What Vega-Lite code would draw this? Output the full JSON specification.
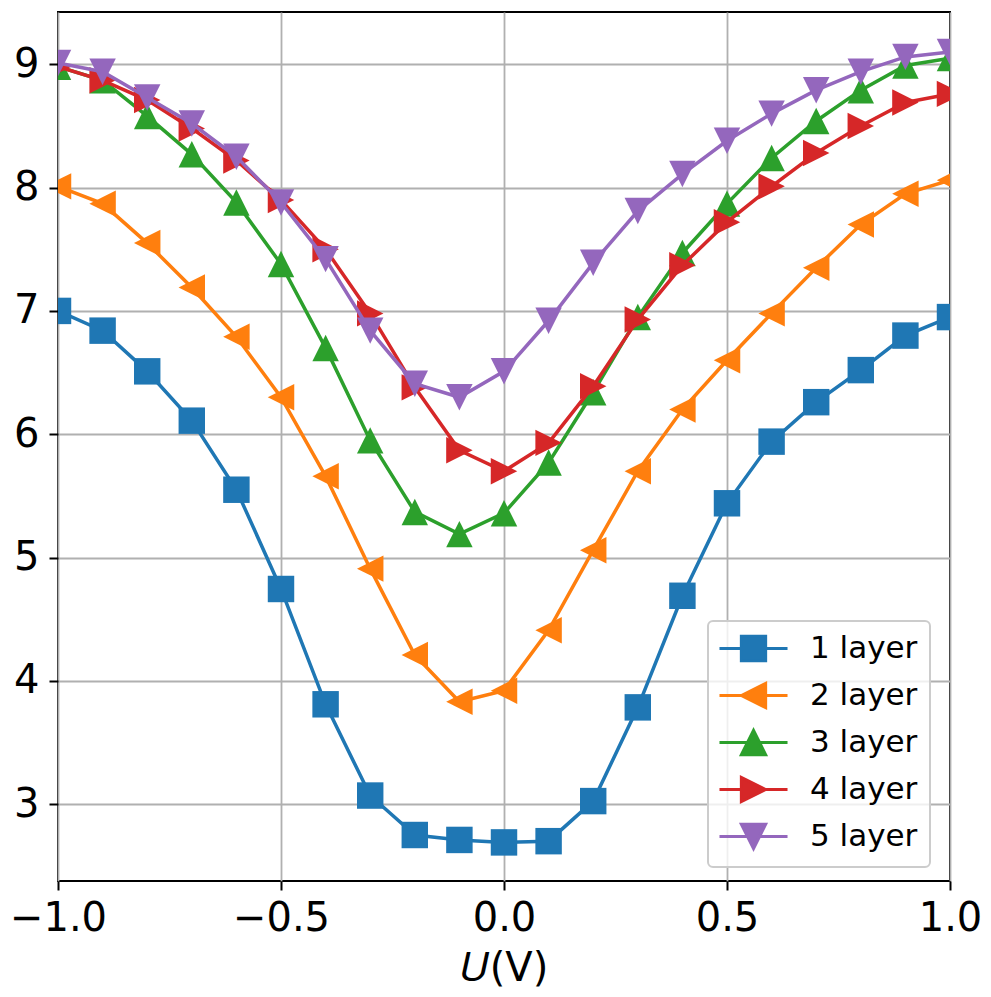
{
  "$schema": "https://vega.github.io/schema/vega-lite/v6.json",
  "width": 892,
  "height": 869,
  "autosize": {"type": "none"},
  "padding": {"left": 58, "top": 12, "right": 41, "bottom": 116},
  "background": "white",
  "config": {
    "font": "DejaVu Sans",
    "view": {"stroke": "black", "strokeWidth": 2}
  },
  "data": {
    "values": [
      {"u": -1.0, "1 layer": 7.00, "2 layer": 8.01, "3 layer": 8.98, "4 layer": 8.98, "5 layer": 9.01},
      {"u": -0.9, "1 layer": 6.84, "2 layer": 7.87, "3 layer": 8.87, "4 layer": 8.87, "5 layer": 8.94},
      {"u": -0.8, "1 layer": 6.51, "2 layer": 7.55, "3 layer": 8.58, "4 layer": 8.71, "5 layer": 8.73},
      {"u": -0.7, "1 layer": 6.11, "2 layer": 7.19, "3 layer": 8.27, "4 layer": 8.48, "5 layer": 8.52},
      {"u": -0.6, "1 layer": 5.55, "2 layer": 6.79, "3 layer": 7.88, "4 layer": 8.22, "5 layer": 8.25},
      {"u": -0.5, "1 layer": 4.745, "2 layer": 6.30, "3 layer": 7.38, "4 layer": 7.90, "5 layer": 7.88},
      {"u": -0.4, "1 layer": 3.81, "2 layer": 5.66, "3 layer": 6.70, "4 layer": 7.50, "5 layer": 7.42},
      {"u": -0.3, "1 layer": 3.07, "2 layer": 4.91, "3 layer": 5.95, "4 layer": 6.98, "5 layer": 6.84},
      {"u": -0.2, "1 layer": 2.75, "2 layer": 4.21, "3 layer": 5.37, "4 layer": 6.38, "5 layer": 6.41},
      {"u": -0.1, "1 layer": 2.71, "2 layer": 3.83, "3 layer": 5.19, "4 layer": 5.87, "5 layer": 6.30},
      {"u": 0.0, "1 layer": 2.69, "2 layer": 3.92, "3 layer": 5.36, "4 layer": 5.70, "5 layer": 6.51},
      {"u": 0.1, "1 layer": 2.70, "2 layer": 4.41, "3 layer": 5.77, "4 layer": 5.93, "5 layer": 6.92},
      {"u": 0.2, "1 layer": 3.025, "2 layer": 5.06, "3 layer": 6.34, "4 layer": 6.39, "5 layer": 7.39},
      {"u": 0.3, "1 layer": 3.785, "2 layer": 5.70, "3 layer": 6.95, "4 layer": 6.93, "5 layer": 7.81},
      {"u": 0.4, "1 layer": 4.69, "2 layer": 6.20, "3 layer": 7.47, "4 layer": 7.37, "5 layer": 8.11},
      {"u": 0.5, "1 layer": 5.44, "2 layer": 6.60, "3 layer": 7.87, "4 layer": 7.72, "5 layer": 8.38},
      {"u": 0.6, "1 layer": 5.94, "2 layer": 6.98, "3 layer": 8.24, "4 layer": 8.01, "5 layer": 8.60},
      {"u": 0.7, "1 layer": 6.26, "2 layer": 7.35, "3 layer": 8.54, "4 layer": 8.28, "5 layer": 8.79},
      {"u": 0.8, "1 layer": 6.52, "2 layer": 7.70, "3 layer": 8.79, "4 layer": 8.50, "5 layer": 8.94},
      {"u": 0.9, "1 layer": 6.80, "2 layer": 7.95, "3 layer": 8.99, "4 layer": 8.69, "5 layer": 9.06},
      {"u": 1.0, "1 layer": 6.95, "2 layer": 8.06, "3 layer": 9.05, "4 layer": 8.76, "5 layer": 9.10}
    ]
  },
  "transform": [
    {"fold": ["1 layer", "2 layer", "3 layer", "4 layer", "5 layer"], "as": ["s", "v"]}
  ],
  "encoding": {
    "x": {
      "field": "u", "type": "quantitative",
      "scale": {"domain": [-1, 1], "nice": false, "zero": false},
      "axis": {
        "values": [-1, -0.5, 0, 0.5, 1], "format": ".1f",
        "labelFontSize": 40, "labelColor": "black", "labelPadding": 8, "labelFlush": false, "labelOverlap": false,
        "tickSize": 9, "tickWidth": 2, "tickColor": "black", "domain": false,
        "gridColor": "#b0b0b0", "gridWidth": 1.8,
        "title": "𝑈(V)", "titleFontSize": 40, "titleFontWeight": "normal", "titleColor": "black",
        "titleBaseline": "alphabetic", "titleY": 99
      }
    },
    "y": {
      "field": "v", "type": "quantitative",
      "scale": {"domain": [2.377, 9.424], "nice": false, "zero": false},
      "axis": {
        "values": [3, 4, 5, 6, 7, 8, 9], "format": "d",
        "labelFontSize": 40, "labelColor": "black", "labelPadding": 10, "labelFlush": false, "labelOverlap": false,
        "tickSize": 9, "tickWidth": 2, "tickColor": "black", "domain": false,
        "gridColor": "#b0b0b0", "gridWidth": 1.8, "title": null
      }
    },
    "color": {
      "field": "s", "type": "nominal",
      "scale": {
        "domain": ["1 layer", "2 layer", "3 layer", "4 layer", "5 layer"],
        "range": ["#1f77b4", "#ff7f0e", "#2ca02c", "#d62728", "#9467bd"]
      },
      "legend": {
        "orient": "none", "legendX": 650, "legendY": 609, "title": null,
        "labelFontSize": 31, "labelColor": "black", "labelFont": "DejaVu Sans",
        "symbolSize": 729, "padding": 12, "rowPadding": 10, "labelOffset": 41, "symbolOffset": 18,
        "fillColor": "rgba(255,255,255,0.8)", "strokeColor": "#cccccc", "cornerRadius": 5,
        "encode": {
          "legend": {"update": {"strokeWidth": {"value": 2}}},
          "symbols": {
            "update": {
              "shape": {"signal": "['M-2.52,0H2.52M-0.9,-0.9H0.9V0.9H-0.9Z','M-2.52,0H2.52M-0.9,0L0.9,-0.9L0.9,0.9Z','M-2.52,0H2.52M0,-0.9L-0.9,0.9L0.9,0.9Z','M-2.52,0H2.52M0.9,0L-0.9,-0.9L-0.9,0.9Z','M-2.52,0H2.52M0,0.9L-0.9,-0.9L0.9,-0.9Z'][indexof(['1 layer','2 layer','3 layer','4 layer','5 layer'], datum.value)]"},
              "fill": {"signal": "['#1f77b4','#ff7f0e','#2ca02c','#d62728','#9467bd'][indexof(['1 layer','2 layer','3 layer','4 layer','5 layer'], datum.value)]"},
              "stroke": {"signal": "['#1f77b4','#ff7f0e','#2ca02c','#d62728','#9467bd'][indexof(['1 layer','2 layer','3 layer','4 layer','5 layer'], datum.value)]"},
              "strokeWidth": {"value": 3},
              "size": {"value": 729},
              "opacity": {"value": 1}
            }
          }
        }
      }
    }
  },
  "layer": [
    {"transform": [{"filter": "datum.s === '1 layer'"}], "mark": {"type": "line", "strokeWidth": 3.5, "clip": true}},
    {"transform": [{"filter": "datum.s === '1 layer'"}], "mark": {"type": "point", "filled": true, "size": 700, "opacity": 1, "clip": true, "shape": "M-1,-1H1V1H-1Z"}},
    {"transform": [{"filter": "datum.s === '2 layer'"}], "mark": {"type": "line", "strokeWidth": 3.5, "clip": true}},
    {"transform": [{"filter": "datum.s === '2 layer'"}], "mark": {"type": "point", "filled": true, "size": 700, "opacity": 1, "clip": true, "shape": "M-1,0L1,-1L1,1Z"}},
    {"transform": [{"filter": "datum.s === '3 layer'"}], "mark": {"type": "line", "strokeWidth": 3.5, "clip": true}},
    {"transform": [{"filter": "datum.s === '3 layer'"}], "mark": {"type": "point", "filled": true, "size": 700, "opacity": 1, "clip": true, "shape": "M0,-1L-1,1L1,1Z"}},
    {"transform": [{"filter": "datum.s === '4 layer'"}], "mark": {"type": "line", "strokeWidth": 3.5, "clip": true}},
    {"transform": [{"filter": "datum.s === '4 layer'"}], "mark": {"type": "point", "filled": true, "size": 700, "opacity": 1, "clip": true, "shape": "M1,0L-1,-1L-1,1Z"}},
    {"transform": [{"filter": "datum.s === '5 layer'"}], "mark": {"type": "line", "strokeWidth": 3.5, "clip": true}},
    {"transform": [{"filter": "datum.s === '5 layer'"}], "mark": {"type": "point", "filled": true, "size": 700, "opacity": 1, "clip": true, "shape": "M0,1L-1,-1L1,-1Z"}}
  ]
}
